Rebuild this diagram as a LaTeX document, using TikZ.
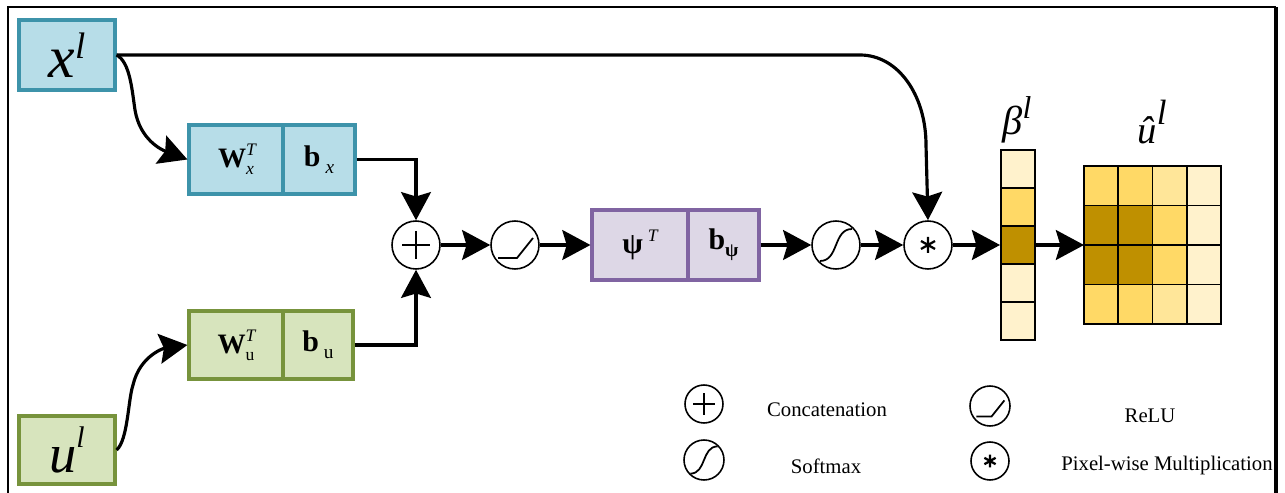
\documentclass[tikz,border=0pt]{standalone}
\usepackage{fontspec}
\setmainfont{Liberation Serif}
\usetikzlibrary{arrows.meta}

\definecolor{bluefill}{HTML}{B7DDE8}
\definecolor{blueedge}{HTML}{3D93AA}
\definecolor{greenfill}{HTML}{D7E4BD}
\definecolor{greenedge}{HTML}{77933C}
\definecolor{purplefill}{HTML}{DDD7E6}
\definecolor{purpleedge}{HTML}{8064A2}
\definecolor{ylight}{HTML}{FFF2CC}
\definecolor{ymid}{HTML}{FFE699}
\definecolor{ygold}{HTML}{FFD966}
\definecolor{ydark}{HTML}{BF9000}

\newcommand\fs[1]{\fontsize{#1}{#1}\selectfont}
% superscript stacked over a subscript
\newcommand\supsub[2]{\rlap{\raisebox{7pt}{\fs{10}#1}}\raisebox{-4pt}{\fs{10}#2}}

\begin{document}
\begin{tikzpicture}[x=0.02cm, y=-0.02cm,
  box/.style={draw, rectangle, inner sep=0pt, line width=1.8pt},
  bluebox/.style={box, fill=bluefill, draw=blueedge},
  greenbox/.style={box, fill=greenfill, draw=greenedge},
  purplebox/.style={box, fill=purplefill, draw=purpleedge},
  op/.style={draw, circle, fill=white, line width=0.9pt, inner sep=0pt, minimum size=0.96cm},
  legop/.style={draw, circle, fill=white, line width=0.9pt, inner sep=0pt, minimum size=0.76cm},
  symline/.style={line width=1pt},
  conn/.style={line width=1.8pt},
  arr/.style={conn, -{Stealth[length=16pt, width=17pt, inset=2.5pt]}},
  ycell/.style={draw, rectangle, inner sep=0pt, line width=1.1pt, minimum width=0.68cm, minimum height=0.76cm},
  legtext/.style={inner sep=0pt, font=\fs{11.8}},
  plussym/.pic={\draw[symline] (-14,0) -- (14,0) (0,-14) -- (0,14);},
  relusym/.pic={\draw[symline] (-17,13) -- (2,13) -- (18,-7);},
  softsym/.pic={\draw[symline] (-16,16) .. controls (3,16) and (-3,-16) .. (16,-16);},
  starsym/.pic={\draw[line width=1.3pt] (0,-8) -- (0,8) (-7,-4) -- (7,4) (-7,4) -- (7,-4);},
]
\useasboundingbox (0,0) rectangle (1285,493);
\clip (0,0) rectangle (1285,493);

% outer frame (open at the bottom edge)
\draw[line width=1.1pt] (8,520) -- (8,7) -- (1276,7);
\draw[line width=2pt] (1276,7) -- (1276,520);

% inputs
\node[bluebox, minimum width=1.92cm, minimum height=1.40cm] (xl) at (67,55)
  {\fs{34}\itshape x\raisebox{11pt}{\fs{21}l}};
\node[greenbox, minimum width=1.92cm, minimum height=1.36cm] (ul) at (67,450)
  {\fs{31}\itshape u\raisebox{14pt}{\fs{17}l}};

% linear maps
\node[bluebox, minimum width=1.88cm, minimum height=1.38cm] (Wx) at (236,159.5)
  {\fs{16}\textbf{W}\supsub{\itshape T}{\itshape x}};
\node[bluebox, minimum width=1.44cm, minimum height=1.38cm] (bx) at (319,159.5)
  {\fs{17}\textbf{b}\,\raisebox{-4pt}{\fs{11}\itshape x}};
\node[greenbox, minimum width=1.88cm, minimum height=1.36cm] (Wu) at (236,345)
  {\fs{16}\textbf{W}\supsub{\itshape T}{u}};
\node[greenbox, minimum width=1.40cm, minimum height=1.36cm] (bu) at (318,345)
  {\fs{17}\textbf{b}\,\raisebox{-4pt}{\fs{11}u}};
\node[purplebox, minimum width=1.92cm, minimum height=1.40cm] (psi) at (640,245)
  {\fs{17}\textbf{ψ}\,\raisebox{7pt}{\fs{10}\itshape T}};
\node[purplebox, minimum width=1.42cm, minimum height=1.40cm] (bpsi) at (723.5,245)
  {\fs{17}\textbf{b}\raisebox{-4pt}{\fs{11}\textbf{ψ}}};

% operators
\node[op] (cat) at (416,245) {};
\node[op] (relu) at (515,245) {};
\node[op] (soft) at (836,245) {};
\node[op] (mul) at (928,245) {};
\pic at (cat) {plussym};
\pic at (relu) {relusym};
\pic at (soft) {softsym};
\pic at (mul) {starsym};

% attention column
\foreach \i/\c in {1/ylight, 2/ygold, 3/ydark, 4/ylight, 5/ylight}
  \node[ycell, fill=\c] (beta\i) at (1018,{131+38*\i}) {};
\node[inner sep=0pt] (betalab) at (1017,120) {\fs{23}\itshape β\raisebox{9pt}{\fs{18}l}};

% attended feature map
\foreach \r/\row in {0/{ygold,ygold,ymid,ylight}, 1/{ydark,ydark,ygold,ylight},
                     2/{ydark,ydark,ygold,ylight}, 3/{ygold,ygold,ymid,ylight}}
  \foreach \c [count=\k from 0] in \row
    \fill[\c] ({1084+34.25*\k},{166+39.5*\r}) rectangle ++(34.25,39.5);
\draw[line width=1.1pt, xstep=0.685cm, ystep=0.79cm, shift={(1084,166)}]
  (0,0) grid (137,158);
\draw[line width=1.1pt] (1084,166) rectangle (1221,324);
\coordinate (gridin) at (1084,245);
\node[inner sep=0pt] (ulab) at (1152,122) {\fs{22}\itshape \^{u}\raisebox{11pt}{\fs{20}l}};

% connectors
\draw[arr] (xl.east) -- (860,55) .. controls (898,55) and (926,95) .. (926,145) -- (mul.north);
\draw[arr] (xl.east) .. controls (130,62) and (132,90) .. (135,110)
  .. controls (140,140) and (162,150) .. (Wx.west);
\draw[arr] (ul.east) .. controls (128,440) and (128,400) .. (133,385)
  .. controls (140,355) and (165,348) .. (Wu.west);
\draw[arr] (bx.east) -| (cat.north);
\draw[arr] (bu.east) -| (cat.south);
\draw[arr] (cat) -- (relu);
\draw[arr] (relu) -- (psi);
\draw[arr] (bpsi) -- (soft);
\draw[arr] (soft) -- (mul);
\draw[arr] (mul) -- (beta3);
\draw[arr] (beta3) -- (gridin);

% legend
\node[legop] (lcat) at (704,404) {};
\node[legop, minimum size=0.8cm] (lrelu) at (990,406) {};
\node[legop, minimum size=0.8cm] (lsoft) at (704,460) {};
\node[legop] (lmul) at (990,461) {};
\pic[scale=0.78] at (lcat) {plussym};
\pic[scale=0.8] at (lrelu) {relusym};
\pic[scale=0.85] at (lsoft) {softsym};
\pic[scale=0.8] at (lmul) {starsym};
\node[legtext] (tcat) at (827,410) {Concatenation};
\node[legtext] (trelu) at (1150,416) {ReLU};
\node[legtext] (tsoft) at (826,466) {Softmax};
\node[legtext] (tmul) at (1167,466) {Pixel-wise Multiplication};
\end{tikzpicture}
\end{document}
